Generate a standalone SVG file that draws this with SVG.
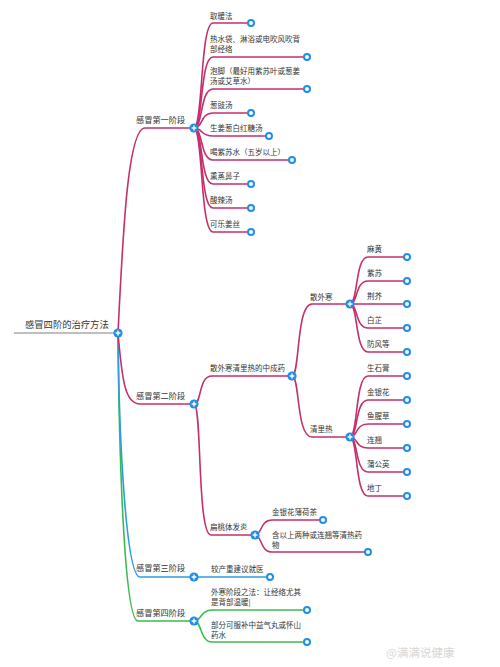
<svg xmlns="http://www.w3.org/2000/svg" width="500" height="667" viewBox="0 0 500 667">
<style>
text{font-family:"Noto Sans CJK SC","Noto Sans",sans-serif;fill:#333}
.r{font-size:9.3px}
.s{font-size:8.2px}
.c{font-size:7.5px}
.p{fill:none;stroke:#c52f6c;stroke-width:1.6}
.b{fill:none;stroke:#2a9fe0;stroke-width:1.6}
.g{fill:none;stroke:#3dba4e;stroke-width:1.6}
.leaf{fill:#fff;stroke:#1f8ee8;stroke-width:2}
.wm{font-size:11.5px;fill:#d6d6d6}
</style>
<defs>
<g id="plus"><circle r="4.6" fill="#1f8ee8"/><path d="M-2.4,0H2.4M0,-2.4V2.4" stroke="#fff" stroke-width="1.4"/></g>
</defs>
<g id="connectors">
<path d="M14,333H118" stroke="#aaa" stroke-width="1.4" fill="none"/>
<path class="g" d="M118,333 C119,450 124,621 138,621 H194"/>
<path class="b" d="M118,333 C119,440 126,577 140,577 H194"/>
<path class="p" d="M118,333 C123,230 128,128 145,128 H194"/>
<path class="p" d="M118,333 C122,380 125,404 140,404 H194"/>
<path class="p" d="M194,128 C203,128 200,23 213,23 H251"/>
<path class="p" d="M194,128 C203,128 200,57 213,57 H307"/>
<path class="p" d="M194,128 C203,128 200,89 213,89 H307"/>
<path class="p" d="M194,128 C203,128 200,113 213,113 H251"/>
<path class="p" d="M194,128 C203,128 200,136 213,136 H269"/>
<path class="p" d="M194,128 C203,128 200,160 213,160 H292"/>
<path class="p" d="M194,128 C203,128 200,184 213,184 H251"/>
<path class="p" d="M194,128 C203,128 200,208 213,208 H251"/>
<path class="p" d="M194,128 C203,128 200,232 213,232 H251"/>
<path class="p" d="M194,404 C202,404 198,376 212,376 H292"/>
<path class="p" d="M194,404 C202,404 197,535 211,535 H255"/>
<path class="p" d="M292,376 C300,376 296,304 312,304 H350"/>
<path class="p" d="M292,376 C300,376 296,437 312,437 H350"/>
<path class="p" d="M350,304 C358,304 355,257 368,257 H407"/>
<path class="p" d="M350,304 C358,304 355,281 368,281 H407"/>
<path class="p" d="M350,304 H407"/>
<path class="p" d="M350,304 C358,304 355,328 368,328 H407"/>
<path class="p" d="M350,304 C358,304 355,352 368,352 H407"/>
<path class="p" d="M350,437 C358,437 355,376 368,376 H407"/>
<path class="p" d="M350,437 C358,437 355,400 368,400 H407"/>
<path class="p" d="M350,437 C358,437 355,424 368,424 H407"/>
<path class="p" d="M350,437 C358,437 355,448 368,448 H407"/>
<path class="p" d="M350,437 C358,437 355,472 368,472 H407"/>
<path class="p" d="M350,437 C358,437 355,496 368,496 H407"/>
<path class="p" d="M255,535 C262,535 260,520 272,520 H323"/>
<path class="p" d="M255,535 C262,535 260,552 272,552 H368"/>
<path class="b" d="M194,577 H270"/>
<path class="g" d="M194,621 C202,621 200,610 212,610 H307"/>
<path class="g" d="M194,621 C202,621 200,642 212,642 H307"/>
</g>
<g id="root"><text class="r" x="25" y="328">感冒四阶的治疗方法</text><use href="#plus" x="118" y="333"/></g>
<g id="stage1"><text class="s" x="136" y="123">感冒第一阶段</text><use href="#plus" x="194" y="128"/></g>
<g id="s1c1"><text class="c" x="210" y="19">取暖法</text><circle class="leaf" cx="251" cy="23" r="3"/></g>
<g id="s1c2"><text class="c" x="210" y="42">热水袋、淋浴或电吹风吹背</text><text class="c" x="210" y="52">部经络</text><circle class="leaf" cx="307" cy="57" r="3"/></g>
<g id="s1c3"><text class="c" x="210" y="74">泡脚（最好用紫苏叶或葱姜</text><text class="c" x="210" y="84">汤或艾草水）</text><circle class="leaf" cx="307" cy="89" r="3"/></g>
<g id="s1c4"><text class="c" x="210" y="108">葱豉汤</text><circle class="leaf" cx="251" cy="113" r="3"/></g>
<g id="s1c5"><text class="c" x="210" y="131">生姜葱白红糖汤</text><circle class="leaf" cx="269" cy="136" r="3"/></g>
<g id="s1c6"><text class="c" x="210" y="155">喝紫苏水（五岁以上）</text><circle class="leaf" cx="292" cy="160" r="3"/></g>
<g id="s1c7"><text class="c" x="210" y="179">熏蒸鼻子</text><circle class="leaf" cx="251" cy="184" r="3"/></g>
<g id="s1c8"><text class="c" x="210" y="203">酸辣汤</text><circle class="leaf" cx="251" cy="208" r="3"/></g>
<g id="s1c9"><text class="c" x="210" y="227">可乐姜丝</text><circle class="leaf" cx="251" cy="232" r="3"/></g>
<g id="stage2"><text class="s" x="136" y="399">感冒第二阶段</text><use href="#plus" x="194" y="404"/></g>
<g id="s2a"><text class="c" x="210" y="371">散外寒清里热的中成药</text><use href="#plus" x="292" y="376"/></g>
<g id="s2a1"><text class="c" x="310" y="300">散外寒</text><use href="#plus" x="350" y="304"/></g>
<g id="h1"><text class="c" x="367" y="252">麻黄</text><circle class="leaf" cx="407" cy="257" r="3"/></g>
<g id="h2"><text class="c" x="367" y="276">紫苏</text><circle class="leaf" cx="407" cy="281" r="3"/></g>
<g id="h3"><text class="c" x="367" y="299">荆芥</text><circle class="leaf" cx="407" cy="304" r="3"/></g>
<g id="h4"><text class="c" x="367" y="323">白芷</text><circle class="leaf" cx="407" cy="328" r="3"/></g>
<g id="h5"><text class="c" x="367" y="347">防风等</text><circle class="leaf" cx="407" cy="352" r="3"/></g>
<g id="s2a2"><text class="c" x="310" y="432">清里热</text><use href="#plus" x="350" y="437"/></g>
<g id="q1"><text class="c" x="367" y="371">生石膏</text><circle class="leaf" cx="407" cy="376" r="3"/></g>
<g id="q2"><text class="c" x="367" y="395">金银花</text><circle class="leaf" cx="407" cy="400" r="3"/></g>
<g id="q3"><text class="c" x="367" y="419">鱼腥草</text><circle class="leaf" cx="407" cy="424" r="3"/></g>
<g id="q4"><text class="c" x="367" y="443">连翘</text><circle class="leaf" cx="407" cy="448" r="3"/></g>
<g id="q5"><text class="c" x="367" y="467">蒲公英</text><circle class="leaf" cx="407" cy="472" r="3"/></g>
<g id="q6"><text class="c" x="367" y="491">地丁</text><circle class="leaf" cx="407" cy="496" r="3"/></g>
<g id="s2b"><text class="c" x="210" y="530">扁桃体发炎</text><use href="#plus" x="255" y="535"/></g>
<g id="s2b1"><text class="c" x="272" y="515">金银花薄荷茶</text><circle class="leaf" cx="323" cy="520" r="3"/></g>
<g id="s2b2"><text class="c" x="272" y="538">含以上两种或连翘等清热药</text><text class="c" x="272" y="548">物</text><circle class="leaf" cx="368" cy="552" r="3"/></g>
<g id="stage3"><text class="s" x="136" y="571">感冒第三阶段</text><use href="#plus" x="194" y="577"/></g>
<g id="s3c1"><text class="c" x="211" y="572">较产重建议就医</text><circle class="leaf" cx="270" cy="577" r="3"/></g>
<g id="stage4"><text class="s" x="136" y="616">感冒第四阶段</text><use href="#plus" x="194" y="621"/></g>
<g id="s4c1"><text class="c" x="211" y="595">外寒阶段之法：让经络尤其</text><text class="c" x="211" y="605">是背部温暖|</text><circle class="leaf" cx="307" cy="610" r="3"/></g>
<g id="s4c2"><text class="c" x="211" y="628">部分可服补中益气丸或怀山</text><text class="c" x="211" y="638">药水</text><circle class="leaf" cx="307" cy="642" r="3"/></g>
<text class="wm" x="386" y="657">@满满说健康</text>
</svg>
